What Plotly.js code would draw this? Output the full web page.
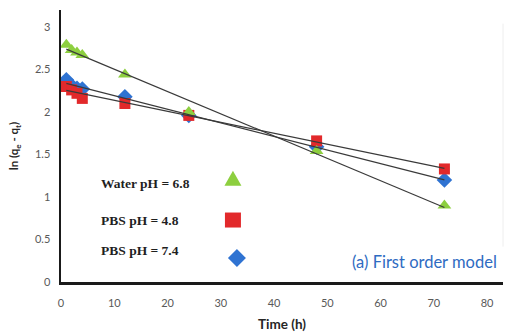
<!DOCTYPE html>
<html>
<head>
<meta charset="utf-8">
<script src="https://cdn.plot.ly/plotly-3.0.1.min.js"></script>
<style>html,body{margin:0;padding:0;background:#fff}#chart{width:513px;height:336px}</style>
</head>
<body>
<div id="chart"></div>
<script>
// Data
var time = [1, 2, 3, 4, 12, 24, 48, 72];
var waterPH68 = [2.79, 2.73, 2.70, 2.67, 2.44, 2.00, 1.54, 0.90];
var pbsPH48 = [2.30, 2.26, 2.22, 2.16, 2.10, 1.96, 1.66, 1.33];
var pbsPH74 = [2.38, 2.31, 2.28, 2.27, 2.18, 1.96, 1.59, 1.20];
var seriesNames = ['Water pH = 6.8', 'PBS pH = 4.8', 'PBS pH = 7.4'];
var xTicks = [0, 10, 20, 30, 40, 50, 60, 70, 80];
var yTicks = [0, 0.5, 1, 1.5, 2, 2.5, 3];

var colGreen = '#8DCF3F', colRed = '#E2292B', colBlue = '#2F73D2';

function linfit(x, y) {
  var n = x.length, sx = 0, sy = 0, sxx = 0, sxy = 0;
  for (var i = 0; i < n; i++) { sx += x[i]; sy += y[i]; sxx += x[i]*x[i]; sxy += x[i]*y[i]; }
  var b = (n*sxy - sx*sy) / (n*sxx - sx*sx);
  var a = (sy - b*sx) / n;
  var xs = [Math.min.apply(null, x), Math.max.apply(null, x)];
  return {x: xs, y: xs.map(function(v){ return a + b*v; })};
}

var traces = [];
function markerTrace(y, sym, col, size, name) {
  return {x: time, y: y, name: name, mode: 'markers', type: 'scatter', showlegend: false, hoverinfo: 'skip',
    marker: {symbol: sym, color: col, size: size, line: {width: 0}}};
}
traces.push(markerTrace(pbsPH74, 'diamond', colBlue, 12, seriesNames[2]));
traces.push(markerTrace(pbsPH48, 'square', colRed, 11, seriesNames[1]));
traces.push(markerTrace(waterPH68, 'triangle-up', colGreen, 12, seriesNames[0]));
[waterPH68, pbsPH48, pbsPH74].forEach(function(y){
  var f = linfit(time, y);
  traces.push({x: f.x, y: f.y, mode: 'lines', type: 'scatter', showlegend: false, hoverinfo: 'skip',
    line: {color: '#3a3a3a', width: 1.2}});
});

var tickFont = {family: 'Lato, Carlito, sans-serif', size: 11, color: '#595959'};
var annFont = {family: '"Liberation Serif", "Times New Roman", serif', size: 13.5, color: '#1f1f1f'};
var labelPos = [0.362, 0.226, 0.116];
var anns = seriesNames.map(function(n, i){
  return {text: '<b>' + n + '</b>', xref: 'paper', yref: 'paper', x: 0.086, y: labelPos[i],
    xanchor: 'left', yanchor: 'middle', showarrow: false, font: annFont};
});
anns.push({text: '(a) First order model', xref: 'paper', yref: 'paper', x: 0.992, y: 0.072,
  xanchor: 'right', yanchor: 'middle', showarrow: false,
  font: {family: 'Lato, Carlito, sans-serif', size: 16.5, color: '#2E6BC2'}});

// legend keys (drawn to the right of the labels, as in the reference)
function keyShape(path, col, xa, ya) {
  return {type: 'path', xref: 'paper', yref: 'paper', xsizemode: 'pixel', ysizemode: 'pixel',
    xanchor: xa, yanchor: ya, path: path, fillcolor: col, line: {width: 0}};
}
var shapes = [
  keyShape('M-8.5,-7 L8.5,-7 L0,8 Z', colGreen, 0.389, 0.38),
  keyShape('M-8,-7 L8,-7 L8,8 L-8,8 Z', colRed, 0.389, 0.226),
  keyShape('M0,-9 L9,0 L0,9 L-9,0 Z', colBlue, 0.398, 0.088),
  {type: 'line', xref: 'paper', yref: 'paper', x0: 1, x1: 1, y0: 0.13, y1: 0.95,
    line: {color: '#eeeeee', width: 1}}
];

var layout = {
  width: 513, height: 336,
  margin: {l: 61, r: 10, t: 10, b: 54},
  paper_bgcolor: '#ffffff', plot_bgcolor: '#ffffff',
  showlegend: false,
  xaxis: {range: [0, 83], tickvals: xTicks, showgrid: false, zeroline: false,
    showline: true, linecolor: '#1a1a1a', linewidth: 2.5, ticks: 'outside', ticklen: 9, tickcolor: 'rgba(0,0,0,0)',
    tickfont: tickFont,
    title: {text: '<b>Time (h)</b>', font: {family: 'Lato, Carlito, sans-serif', size: 13.5, color: '#262626'}, standoff: 12}},
  yaxis: {range: [0, 3.2], tickvals: yTicks, showgrid: false, zeroline: false,
    showline: true, linecolor: '#1a1a1a', linewidth: 2.5, ticks: 'outside', ticklen: 6, tickcolor: 'rgba(0,0,0,0)',
    tickfont: tickFont,
    title: {text: '<b>ln (q<sub>e</sub> - q<sub>t</sub>)</b>', font: {family: 'Lato, Carlito, sans-serif', size: 11.5, color: '#262626'}, standoff: 14}},
  annotations: anns,
  shapes: shapes
};

Plotly.newPlot('chart', traces, layout, {staticPlot: true, displayModeBar: false});
</script>
</body>
</html>
